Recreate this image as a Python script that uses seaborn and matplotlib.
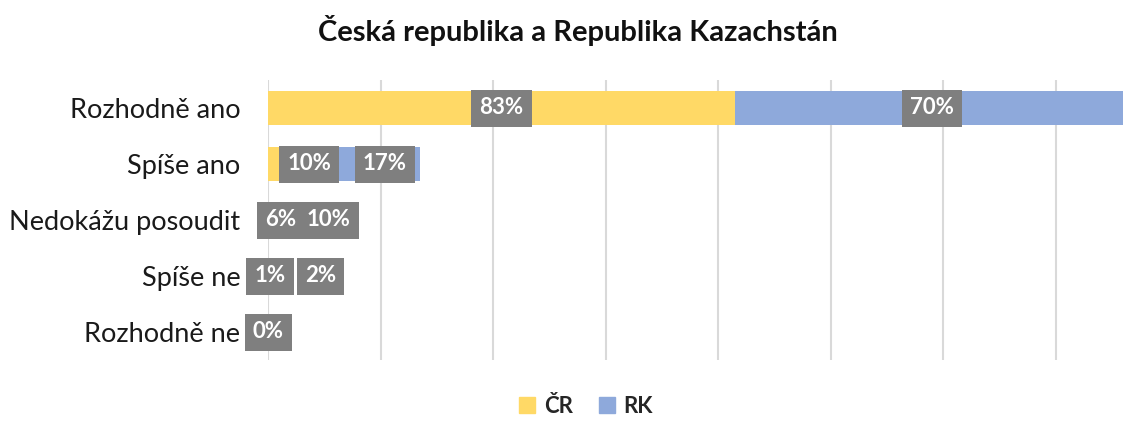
import numpy as np
import pandas as pd
import matplotlib
matplotlib.use("Agg")
import matplotlib.pyplot as plt
import seaborn as sns

# Data
categories = ["Rozhodně ano", "Spíše ano", "Nedokážu posoudit", "Spíše ne", "Rozhodně ne"]
cr_values = [83, 10, 6, 1, 0]
rk_values = [70, 17, 10, 2, 0]
# small label shifts (in %) so overlapping labels stay readable, as in the original
cr_nudge = [0, 2.3, -0.7, -0.15, 0]
rk_nudge = [0, 2.3, -0.2, 7.4, 0]

cr_color = "#FFD966"
rk_color = "#8EA9DB"

sns.set_theme(style="white")
plt.rcParams["font.family"] = ["Lato", "DejaVu Sans"]

df = pd.DataFrame({"kat": categories, "CR": cr_values, "RK": rk_values})
df["total"] = df["CR"] + df["RK"]

fig = plt.figure(figsize=(11.23, 4.21), dpi=100)
ax = fig.add_axes([268 / 1123, 1 - 360 / 421, 1 - 268 / 1123, 280 / 421])

sns.barplot(data=df, y="kat", x="total", color=rk_color, orient="h",
            width=0.62, ax=ax, saturation=1, linewidth=0)
sns.barplot(data=df, y="kat", x="CR", color=cr_color, orient="h",
            width=0.62, ax=ax, saturation=1, linewidth=0)

ax.set_xlim(0, 152)
ax.set_xticks(np.arange(0, 160, 20))
ax.set_xticklabels([])
ax.tick_params(axis="x", length=0)
ax.xaxis.grid(True, color="#D9D9D9", linewidth=1.5)
ax.set_axisbelow(True)
for s in ax.spines.values():
    s.set_visible(False)
ax.set_xlabel("")
ax.set_ylabel("")
ax.tick_params(axis="y", length=0, pad=20, labelsize=19.5)
for lbl in ax.get_yticklabels():
    lbl.set_color("#1a1a1a")

box = dict(boxstyle="square,pad=0.36", fc="#7F7F7F", ec="none")
for i in range(len(categories)):
    xc = cr_values[i] / 2 + cr_nudge[i]
    xr = cr_values[i] + rk_values[i] / 2 + rk_nudge[i]
    ax.text(xr, i, f"{rk_values[i]}%", ha="center", va="center", color="white",
            fontsize=16, fontweight="bold", bbox=box, zorder=5)
    ax.text(xc, i, f"{cr_values[i]}%", ha="center", va="center", color="white",
            fontsize=16, fontweight="bold", bbox=box, zorder=6)

fig.suptitle("Česká republika a Republika Kazachstán", fontsize=21,
             fontweight="bold", x=0.515, y=0.965, color="#111111")

handles = [plt.Rectangle((0, 0), 1, 1, color=cr_color),
           plt.Rectangle((0, 0), 1, 1, color=rk_color)]
fig.legend(handles, ["ČR", "RK"], loc="center", bbox_to_anchor=(0.522, 0.035),
           ncol=2, frameon=False, handlelength=0.7, handleheight=0.7,
           handletextpad=0.4, columnspacing=1.2, borderpad=0.2,
           prop={"weight": "bold", "size": 16})

fig.savefig("out.png", dpi=100)
